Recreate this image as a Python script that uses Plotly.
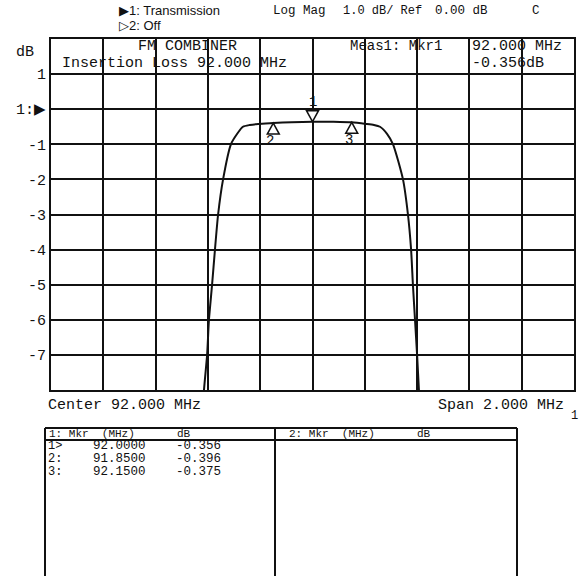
import plotly.graph_objects as go

W, H = 580, 576

# ---------------- data ----------------
freq_mhz = [91.0, 91.45, 91.55, 91.585, 91.597, 91.604, 91.616, 91.627, 91.639,
            91.658, 91.688, 91.712, 91.734, 91.76, 91.792, 91.85, 91.92, 92.0,
            92.08, 92.15, 92.205, 92.235, 92.258, 92.285, 92.308, 92.346, 92.365,
            92.377, 92.384, 92.392, 92.400, 92.407, 92.44, 92.55, 93.0]
trace_db = [-40.0, -25.0, -12.0, -8.0, -7.0, -6.0, -5.0, -4.0, -3.0,
            -2.0, -1.0, -0.7, -0.5, -0.45, -0.42, -0.396, -0.37, -0.356,
            -0.36, -0.375, -0.42, -0.45, -0.5, -0.7, -1.0, -2.0, -3.0,
            -4.0, -5.0, -6.0, -7.0, -8.0, -12.0, -25.0, -40.0]

mkr_ids = ["1", "2", "3"]
mkr_freq = [92.0, 91.85, 92.15]
mkr_db = [-0.356, -0.396, -0.375]
mkr_freq_txt = ["92.0000", "91.8500", "92.1500"]
mkr_db_txt = ["-0.356", "-0.396", "-0.375"]

y_ticks = [1, 0, -1, -2, -3, -4, -5, -6, -7]
y_ticktext = ["1", "1:\u25B6", "-1", "-2", "-3", "-4", "-5", "-6", "-7"]

x_min, x_max = 91.0, 93.0
y_min, y_max = -8.0, 2.0

# ---------------- layout geometry (pixels) ----------------
GL, GR, GT, GB = 51, 574, 39, 390
def px(x): return x / W
def py(y): return 1 - y / H

FONT = "Liberation Mono"
SANS = "Liberation Sans"
BLACK = "#111111"

fig = go.Figure()
fig.add_trace(go.Scatter(x=freq_mhz, y=trace_db, mode="lines",
                         line=dict(color=BLACK, width=2, shape="spline", smoothing=0.6),
                         hoverinfo="skip", showlegend=False))

fig.update_layout(
    width=W, height=H, margin=dict(l=0, r=0, t=0, b=0, autoexpand=False),
    paper_bgcolor="white", plot_bgcolor="white",
    showlegend=False,
    xaxis=dict(domain=[px(GL), px(GR)], range=[x_min, x_max], dtick=0.2, tick0=91.0,
               showgrid=True, gridcolor=BLACK, gridwidth=2, showticklabels=False,
               zeroline=False, showline=True, linecolor=BLACK, linewidth=2, mirror=True,
               ticks="", automargin=False),
    yaxis=dict(domain=[py(GB), py(GT)], range=[y_min, y_max], dtick=1, tick0=0,
               showgrid=True, gridcolor=BLACK, gridwidth=2,
               tickvals=y_ticks, ticktext=y_ticktext, ticklabelstandoff=0,
               tickfont=dict(family=FONT, size=15, color=BLACK),
               zeroline=False, showline=True, linecolor=BLACK, linewidth=2, mirror=True,
               ticks="", automargin=False),
)

anns = []
def txt(x, y, s, size=15, anchor="left", yanchor="middle", font=FONT):
    anns.append(dict(x=px(x), y=py(y), xref="paper", yref="paper", text=s,
                     showarrow=False, xanchor=anchor, yanchor=yanchor,
                     font=dict(family=font, size=size, color=BLACK)))

# header
txt(117, 11, "\u25B61: Transmission", size=13, font=SANS)
txt(271, 11, "Log Mag", size=12.5)
txt(341, 11, "1.0 dB/ Ref", size=12)
txt(433, 11, "0.00 dB", size=12.5)
txt(530, 11, "C", size=12.5)
txt(117, 26, "\u25B72: Off", size=13, font=SANS)

# y-axis unit
txt(14, 52, "dB", size=15)

# in-grid annotations
txt(136, 46, "FM COMBINER", size=15)
txt(60, 63, "Insertion Loss 92.000 MHz", size=15)
txt(348, 46, "Meas1: Mkr1", size=14)
txt(470, 46, "92.000 MHz", size=15)
txt(470, 63, "-0.356dB", size=15)

# bottom of grid
txt(46, 405, "Center 92.000 MHz", size=15)
txt(436, 405, "Span 2.000 MHz", size=15)
txt(569, 416, "1", size=12)

# markers on trace
dx = 6 * (x_max - x_min) / (GR - GL)
dy = 11 * (y_max - y_min) / (GB - GT)
shapes = []
for i, (mid, f, v) in enumerate(zip(mkr_ids, mkr_freq, mkr_db)):
    if i == 0:
        path = f"M {f} {v} L {f-dx} {v+dy} L {f+dx} {v+dy} Z"
        anns.append(dict(x=f, y=v + dy, xref="x", yref="y", text=mid, showarrow=False,
                         yanchor="bottom", yshift=-1,
                         font=dict(family=FONT, size=14, color=BLACK)))
    else:
        path = f"M {f} {v} L {f-dx} {v-dy} L {f+dx} {v-dy} Z"
        anns.append(dict(x=f, y=v - dy, xref="x", yref="y", text=mid, showarrow=False,
                         yanchor="top", xshift=-3, yshift=3,
                         font=dict(family=FONT, size=14, color=BLACK)))
    shapes.append(dict(type="path", path=path, xref="x", yref="y",
                       line=dict(color=BLACK, width=1.5), fillcolor="white"))

# marker table
TT, TH, TB = 428, 440, 580
TL, TM, TRR = 45, 275, 517
for (x0, y0, x1, y1) in [(TL, TT, TRR, TT), (TL, TH, TRR, TH),
                         (TL, TT, TL, TB), (TM, TT, TM, TB), (TRR, TT, TRR, TB)]:
    shapes.append(dict(type="line", xref="paper", yref="paper",
                       x0=px(x0), y0=py(y0), x1=px(x1), y1=py(y1),
                       line=dict(color=BLACK, width=2)))

txt(47, 434, "1: Mkr  (MHz)", size=11)
txt(175, 434, "dB", size=11)
txt(287, 434, "2: Mkr  (MHz)", size=11)
txt(415, 434, "dB", size=11)

row_y = [446, 459, 472]
labels = ["1>", "2:", "3:"]
for lab, ft, dt, yy in zip(labels, mkr_freq_txt, mkr_db_txt, row_y):
    txt(46, yy, lab, size=12)
    txt(148, yy, ft, size=12.5, anchor="right")
    txt(174, yy, dt, size=12.5)

fig.update_layout(annotations=anns, shapes=shapes)
fig.write_html("out.html", config={"displayModeBar": False},
               post_script="document.body.style.margin='0px';")
